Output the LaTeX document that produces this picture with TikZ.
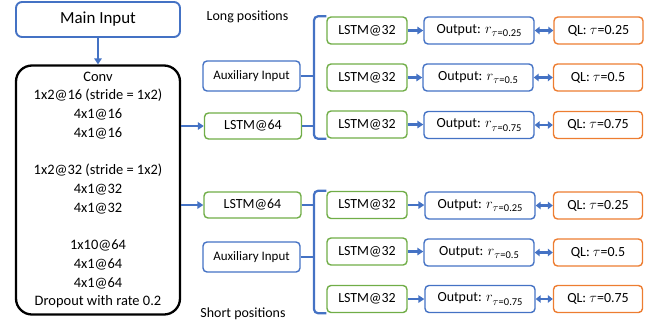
\documentclass[tikz,border=0pt]{standalone}
\usepackage{fontspec}
\setmainfont{Carlito}
\usetikzlibrary{arrows.meta}
\definecolor{cblue}{RGB}{68,114,196}
\definecolor{cgreen}{RGB}{112,173,71}
\definecolor{corange}{RGB}{237,125,49}
\newcommand{\rsub}[1]{$r$\raisebox{-3.5bp}{\fontsize{10.5}{11}\selectfont$\tau$=#1}}
\begin{document}
\begin{tikzpicture}[x=1bp,y=-1bp,
  box/.style={draw, rounded corners=4bp, line width=1.4bp, inner sep=0pt, font=\fontsize{14}{16}\selectfont},
  bluebox/.style={box, draw=cblue},
  greenbox/.style={box, draw=cgreen, minimum width=80bp, minimum height=27bp},
  outbox/.style={box, draw=cblue, minimum width=110bp, minimum height=27bp},
  qlbox/.style={box, draw=corange, minimum width=89bp, minimum height=27bp},
  auxbox/.style={box, draw=cblue, minimum width=97bp, minimum height=30bp, font=\fontsize{13}{15}\selectfont},
  l64box/.style={box, draw=cgreen, minimum width=97bp, minimum height=26bp},
  conn/.style={cblue, line width=2.4bp, -{Triangle[length=6bp,width=7.5bp]}},
  dconn/.style={cblue, line width=2.4bp, {Triangle[length=5bp,width=7.5bp]}-{Triangle[length=5bp,width=7.5bp]}},
  brk/.style={cblue, line width=2.2bp, rounded corners=4bp},
  lbl/.style={font=\fontsize{14}{16}\selectfont, inner sep=0pt}]
\useasboundingbox (0,0) rectangle (654,331);

% left column
\node[bluebox, line width=1.9bp, rounded corners=6bp, minimum width=164bp, minimum height=35bp,
  font=\fontsize{17}{20}\selectfont] (main) at (98,19.5) {Main Input};
\node[draw=black, line width=2.3bp, rounded corners=16bp, minimum width=164bp, minimum height=249bp,
  inner sep=0pt, align=center, font=\fontsize{14.5}{18.8}\selectfont] (conv) at (98,190)
  {Conv\\1x2@16 (stride = 1x2)\\4x1@16\\4x1@16\\[18.8bp]1x2@32 (stride = 1x2)\\4x1@32\\4x1@32\\[18.8bp]1x10@64\\4x1@64\\4x1@64\\Dropout with rate 0.2};
\draw[conn] (main) -- (conv);

% labels
\node[lbl] (long) at (247.5,17) {Long positions};
\node[lbl] (short) at (243,314) {Short positions};

% upper group
\node[auxbox] (aux1) at (251.5,76) {Auxiliary Input};
\node[l64box] (la64) at (253,126) {LSTM@64};
\node[greenbox] (la1) at (367,30.5) {LSTM@32};
\node[greenbox] (la2) at (367,77.5) {LSTM@32};
\node[greenbox] (la3) at (367,124.5) {LSTM@32};
\node[outbox] (oa1) at (479,30.5) {Output: \rsub{0.25}};
\node[outbox] (oa2) at (478,77.5) {Output: \rsub{0.5}};
\node[outbox] (oa3) at (479,125) {Output: \rsub{0.75}};
\node[qlbox] (qa1) at (598.5,30.5) {QL: $\tau$=0.25};
\node[qlbox] (qa2) at (598,77.5) {QL: $\tau$=0.5};
\node[qlbox] (qa3) at (598,125) {QL: $\tau$=0.75};

% lower group
\node[l64box] (lb64) at (252.5,205) {LSTM@64};
\node[auxbox] (aux2) at (251.5,257) {Auxiliary Input};
\node[greenbox] (lb1) at (367,205) {LSTM@32};
\node[greenbox] (lb2) at (367,251.5) {LSTM@32};
\node[greenbox] (lb3) at (367,299) {LSTM@32};
\node[outbox] (ob1) at (480,205.5) {Output: \rsub{0.25}};
\node[outbox] (ob2) at (479,252.5) {Output: \rsub{0.5}};
\node[outbox] (ob3) at (480,299) {Output: \rsub{0.75}};
\node[qlbox] (qb1) at (598,205.5) {QL: $\tau$=0.25};
\node[qlbox] (qb2) at (598,252.5) {QL: $\tau$=0.5};
\node[qlbox] (qb3) at (598,299) {QL: $\tau$=0.75};

% conv to LSTM@64
\draw[conn] (conv.east |- la64) -- (la64);
\draw[conn] (conv.east |- lb64) -- (lb64);

% brackets
\coordinate (bx) at (314,0);
\draw[brk] (la1.north west) -| (bx |- la3.south west) -- (la3.south west);
\draw[cblue, line width=2.2bp] (aux1) -- (aux1 -| bx);
\draw[cblue, line width=2.2bp] (la64) -- (la64 -| bx);
\draw[brk] (lb1.north west) -| (bx |- lb3.south west) -- (lb3.south west);
\draw[cblue, line width=2.2bp] (lb64) -- (lb64 -| bx);
\draw[cblue, line width=2.2bp] (aux2) -- (aux2 -| bx);

% LSTM@32 to outputs
\foreach \a/\b in {la1/oa1,la2/oa2,la3/oa3,lb1/ob1,lb2/ob2,lb3/ob3}
  \draw[conn] (\a.east) -- (\a.east -| \b.west);
% outputs to QL
\foreach \a/\b in {oa1/qa1,oa2/qa2,oa3/qa3,ob1/qb1,ob2/qb2,ob3/qb3}
  \draw[dconn] (\a.east) -- (\a.east -| \b.west);
\end{tikzpicture}
\end{document}
